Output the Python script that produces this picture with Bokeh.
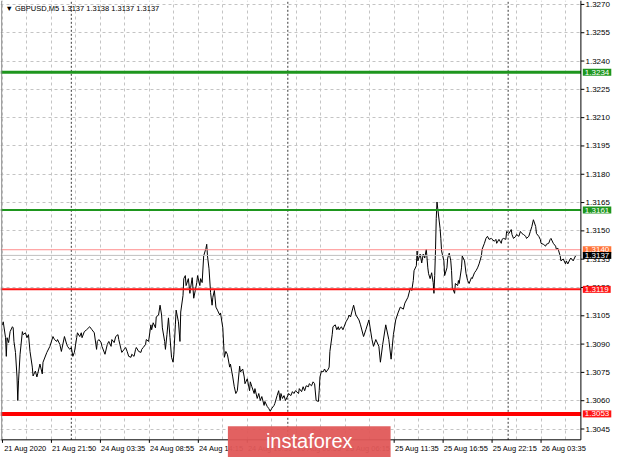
from bokeh.plotting import figure
from bokeh.models import (Range1d, FixedTicker, Label, PrintfTickFormatter,
                          BoxAnnotation, ColumnDataSource)
from bokeh.embed import file_html
from bokeh.resources import INLINE

title_text = "\u25bc GBPUSD,M5 1.3137 1.3138 1.3137 1.3137"

bar_index = [
    0, 1, 4, 5, 6, 8, 10, 13, 14, 15, 17, 19, 20, 21, 23, 26, 27, 30, 32, 34,
    36, 39, 40, 43, 45, 46, 49, 52, 53, 58, 62, 66, 68, 71, 72, 75, 77, 81, 84, 85,
    88, 90, 92, 94, 97, 98, 101, 103, 104, 107, 110, 114, 117, 120, 123, 124, 126, 129, 130, 134,
    137, 139, 142, 143, 146, 148, 151,
    152, 155, 156, 159, 161, 163, 165, 168, 169, 172, 174, 175, 178, 181, 182, 184, 187, 188, 191, 194,
    195, 197, 200, 201, 204, 206, 208, 209, 212, 213, 215, 217, 219, 221, 223, 224, 226, 227, 230, 232,
    233, 236, 237, 239, 240, 243, 245, 246, 248, 250, 252, 254, 255, 258, 259, 261, 263, 266, 267, 268,
    270, 272, 274, 275, 277, 279, 281, 284, 285, 288, 290, 292, 294, 297, 298, 301, 303, 305, 307,
    310, 311, 314, 316, 317, 320, 323, 324, 326, 329, 330, 333, 335, 337, 339, 342, 343, 346, 348, 350,
    352, 355, 356, 359, 361, 363, 364, 366, 368, 370, 373, 374, 377, 379, 381, 383, 387, 388, 391, 393,
    395, 397, 400, 401, 404, 406, 408, 410, 413, 414, 415, 417, 419, 421, 423, 426, 427, 428, 431, 432,
    435, 437, 439, 440, 443, 445, 446, 449, 452, 453, 455, 458, 459, 462,
    466, 468, 472, 475, 479, 483, 485, 488, 492, 494, 497, 501, 505, 508, 511, 514, 517, 520, 524, 526,
    530, 533, 535, 537, 538, 541, 542, 543, 546, 548, 550, 552, 554, 556, 557, 559, 561, 563, 564, 565,
    566, 567, 568, 569, 572, 573, 574, 577, 578, 581, 582, 584, 586, 587, 588, 591, 592, 595, 596, 597,
    600, 601, 604, 606, 608, 610, 613, 614, 617,
    619, 621, 623, 626, 627, 630, 632, 634, 636, 639, 640, 643, 645, 646, 649, 652, 653, 655, 658, 659,
    662, 665, 666, 668, 671, 672, 675, 677, 679, 681, 684, 685, 688, 690, 692, 694, 697, 698, 701, 703,
    704, 707, 710, 711, 714, 716, 717, 720, 723, 724, 726, 729, 730, 733, 736, 737, 739, 742, 743, 746,
    749, 750,
]

close = [
    1.31002, 1.31018, 1.30934, 1.30835, 1.30934, 1.30908, 1.30966, 1.30992, 1.30986, 1.30914,
    1.30856, 1.30726, 1.30601, 1.30705, 1.30846, 1.30966, 1.30950, 1.30960, 1.30934, 1.30950,
    1.30861, 1.30778, 1.30731, 1.30757, 1.30726, 1.30742, 1.30794, 1.30742, 1.30804, 1.30856,
    1.30888, 1.30940, 1.30924, 1.30914, 1.30924, 1.30898, 1.30861, 1.30940, 1.30898, 1.30888,
    1.30872, 1.30882, 1.30835, 1.30856, 1.30934, 1.30960, 1.30940, 1.30960, 1.30934, 1.30966,
    1.30976, 1.30992, 1.30976, 1.30960, 1.30872, 1.30914, 1.30924, 1.30908, 1.30888, 1.30846,
    1.30898, 1.30914, 1.30888, 1.30924, 1.30908, 1.30940, 1.30950,
    1.30924, 1.30872, 1.30856, 1.30872, 1.30882, 1.30861, 1.30835, 1.30830, 1.30846, 1.30835,
    1.30872, 1.30882, 1.30861, 1.30856, 1.30872, 1.30882, 1.30898, 1.30924, 1.30914, 1.31002,
    1.30976, 1.31013, 1.30986, 1.31044, 1.31054, 1.31106, 1.31054, 1.30986, 1.30914, 1.30872,
    1.30950, 1.31039, 1.30934, 1.30830, 1.30804, 1.30846, 1.31002, 1.31080, 1.31018, 1.30914,
    1.31070, 1.31158, 1.31247, 1.31263, 1.31210, 1.31247, 1.31169, 1.31200, 1.31252, 1.31143,
    1.31184, 1.31226, 1.31263, 1.31210, 1.31247, 1.31226, 1.31367, 1.31408, 1.31429, 1.31367,
    1.31299, 1.31174, 1.31106, 1.31148, 1.31184, 1.31096, 1.31080, 1.31054, 1.31065, 1.30986,
    1.30830, 1.30861, 1.30846, 1.30778, 1.30794, 1.30726, 1.30674, 1.30638, 1.30653,
    1.30783, 1.30752, 1.30768, 1.30726, 1.30690, 1.30716, 1.30653, 1.30700, 1.30674, 1.30638,
    1.30664, 1.30612, 1.30638, 1.30601, 1.30622, 1.30575, 1.30596, 1.30570, 1.30559, 1.30544,
    1.30559, 1.30575, 1.30585, 1.30627, 1.30653, 1.30601, 1.30638, 1.30612, 1.30627, 1.30601,
    1.30627, 1.30638, 1.30627, 1.30648, 1.30638, 1.30653, 1.30638, 1.30664, 1.30648, 1.30674,
    1.30653, 1.30679, 1.30674, 1.30690, 1.30679, 1.30700, 1.30690, 1.30601, 1.30596, 1.30653,
    1.30726, 1.30757, 1.30752, 1.30768, 1.30752, 1.30768, 1.30778, 1.30861, 1.30950, 1.30992,
    1.31002, 1.30976, 1.30992, 1.30976, 1.30992, 1.30976, 1.30986, 1.31018, 1.31039, 1.31054,
    1.31044, 1.31091, 1.31106, 1.31054,
    1.31028, 1.31002, 1.30940, 1.30976, 1.31028, 1.30924, 1.30888, 1.30924, 1.30888, 1.30804,
    1.30898, 1.31002, 1.30924, 1.30820, 1.30950, 1.31028, 1.31065, 1.31096, 1.31085, 1.31117,
    1.31148, 1.31195, 1.31184, 1.31237, 1.31289, 1.31315, 1.31393, 1.31341, 1.31377, 1.31330,
    1.31377, 1.31356, 1.31403, 1.31304, 1.31273, 1.31247, 1.31278, 1.31226, 1.31169, 1.31263,
    1.31393, 1.31565, 1.31653, 1.31617, 1.31513, 1.31460, 1.31393, 1.31341, 1.31263, 1.31304,
    1.31356, 1.31382, 1.31341, 1.31289, 1.31200, 1.31169, 1.31221, 1.31210, 1.31237, 1.31221,
    1.31304, 1.31367, 1.31341, 1.31273, 1.31237, 1.31221, 1.31252, 1.31247, 1.31278,
    1.31289, 1.31304, 1.31325, 1.31367, 1.31403, 1.31434, 1.31460, 1.31471, 1.31455, 1.31460,
    1.31455, 1.31445, 1.31455, 1.31434, 1.31455, 1.31434, 1.31455, 1.31460, 1.31455, 1.31497,
    1.31486, 1.31507, 1.31481, 1.31460, 1.31471, 1.31481, 1.31471, 1.31497, 1.31486, 1.31481,
    1.31471, 1.31460, 1.31471, 1.31497, 1.31523, 1.31559, 1.31523, 1.31486, 1.31471, 1.31455,
    1.31434, 1.31429, 1.31419, 1.31429, 1.31434, 1.31455, 1.31460, 1.31434, 1.31419, 1.31403,
    1.31408, 1.31367, 1.31341, 1.31351, 1.31325, 1.31341, 1.31325, 1.31351, 1.31356, 1.31341,
    1.31367, 1.31370,
]

price_ticks = [1.3045, 1.3060, 1.3075, 1.3090, 1.3105, 1.3120, 1.3135, 1.3150,
               1.3165, 1.3180, 1.3195, 1.3210, 1.3225, 1.3240, 1.3255, 1.3270]

time_tick_bars = [0, 64, 128, 192, 256, 320, 384, 448, 512, 576, 640, 704]
time_tick_labels = ["21 Aug 2020", "21 Aug 21:50", "24 Aug 03:35", "24 Aug 08:55",
                    "24 Aug 14:15", "24 Aug 19:35", "25 Aug 00:55", "25 Aug 06:15",
                    "25 Aug 11:35", "25 Aug 16:55", "25 Aug 22:15", "26 Aug 03:35"]
grid_bars = [0, 32, 64, 96, 128, 160, 192, 224, 256, 288, 320, 352, 384, 416, 448,
             480, 512, 544, 576, 608, 640, 672, 704, 736]
day_separator_bars = [90, 373, 661]

level_prices = [1.3234, 1.3161, 1.3140, 1.3137, 1.3119, 1.3053]
level_texts = ["1.3234", "1.3161", "1.3140", "1.3137", "1.3119", "1.3053"]

assert len(bar_index) == len(close)

# ---- styles / layout ----
level_line_colors = ["#1e961e", "#1e961e", "#ff8c8c", "#c0c0c0", "#ff1414", "#ff0000"]
level_line_widths = [3, 2, 1, 1, 2, 4]
level_box_colors = ["#1e961e", "#1e961e", "#ff7438", "#000000", "#ff1414", "#ff1414"]

X0, X1 = -2.58, 797.4          # whole canvas in bar units
Y0, Y1 = 1.302990, 1.327208    # whole canvas in price units
CHART_RIGHT = 756.1            # price scale line
CHART_BOTTOM = 1.303927        # time scale line
LABEL_SHIFT = 30               # MT4 time labels start at their tick
FONT = "Liberation Sans"

p = figure(width=612, height=457, x_range=Range1d(X0, X1), y_range=Range1d(Y0, Y1),
           y_axis_location="right", output_backend="svg", toolbar_location=None,
           min_border=0, min_border_left=0, min_border_right=0,
           min_border_top=0, min_border_bottom=0,
           background_fill_color="white", border_fill_color="white",
           outline_line_color=None)

# price axis (labels pulled in beside the price scale line)
yax = p.yaxis[0]
yax.ticker = FixedTicker(ticks=price_ticks)
yax.formatter = PrintfTickFormatter(format="%.4f")
yax.major_label_standoff = -27
yax.axis_line_color = None
yax.major_tick_line_color = None
yax.minor_tick_line_color = None
yax.major_tick_out = 0
yax.major_tick_in = 0
yax.minor_tick_out = 0
yax.minor_tick_in = 0
yax.major_label_text_font = FONT
yax.major_label_text_font_size = "8px"
yax.major_label_text_color = "black"

# time axis
xax = p.xaxis[0]
label_centers = [b + LABEL_SHIFT for b in time_tick_bars]
xax.ticker = FixedTicker(ticks=label_centers)
xax.major_label_overrides = {c: t for c, t in zip(label_centers, time_tick_labels)}
xax.major_label_standoff = -14
xax.axis_line_color = None
xax.major_tick_line_color = None
xax.minor_tick_line_color = None
xax.major_tick_out = 0
xax.major_tick_in = 0
xax.minor_tick_out = 0
xax.minor_tick_in = 0
xax.major_label_text_font = FONT
xax.major_label_text_font_size = "7.5px"
xax.major_label_text_color = "black"

# grid
p.xgrid.ticker = FixedTicker(ticks=grid_bars)
p.ygrid.ticker = FixedTicker(ticks=price_ticks)
for g in (p.xgrid, p.ygrid):
    g.grid_line_color = "#c4c4c4"
    g.grid_line_dash = "3 3"
    g.grid_line_width = 1

# keep the grid inside the chart area
p.add_layout(BoxAnnotation(left=CHART_RIGHT, fill_color="white", fill_alpha=1.0,
                           line_color=None, level="underlay"))
p.add_layout(BoxAnnotation(top=CHART_BOTTOM, fill_color="white", fill_alpha=1.0,
                           line_color=None, level="underlay"))

# day separators
p.segment(x0=day_separator_bars, y0=CHART_BOTTOM, x1=day_separator_bars, y1=Y1,
          line_color="#3a3a3a", line_dash="2 2", line_width=1)

# price line
p.line(bar_index, close, line_color="black", line_width=1)

# level lines
lv = ColumnDataSource(dict(y=level_prices, color=level_line_colors, width=level_line_widths))
p.segment(x0=X0, y0="y", x1=CHART_RIGHT, y1="y", line_color="color", line_width="width",
          source=lv)

# chart borders and scale ticks
p.segment(x0=[CHART_RIGHT, X0], y0=[CHART_BOTTOM, CHART_BOTTOM],
          x1=[CHART_RIGHT, CHART_RIGHT], y1=[Y1, CHART_BOTTOM], line_color="black", line_width=1)
p.segment(x0=-1, y0=CHART_BOTTOM, x1=-1, y1=Y1, line_color="#8a8a8a", line_width=1)
p.segment(x0=CHART_RIGHT, y0=price_ticks, x1=CHART_RIGHT + 4.5, y1=price_ticks,
          line_color="black", line_width=1)
p.segment(x0=time_tick_bars, y0=CHART_BOTTOM, x1=time_tick_bars, y1=CHART_BOTTOM - 0.00016,
          line_color="black", line_width=1)

# price boxes on the scale
for price, txt, col in zip(level_prices, level_texts, level_box_colors):
    p.add_layout(Label(x=CHART_RIGHT + 2.5, y=price, text=txt, text_align="left",
                       text_baseline="middle", text_font=FONT, text_font_size="8px",
                       text_color="white", background_fill_color=col, background_fill_alpha=1.0,
                       padding=dict(left=2, right=2, top=1, bottom=1)))

# symbol title
p.add_layout(Label(x=3.9, y=1.32679, text=title_text, text_align="left", text_baseline="middle",
                   text_font=FONT, text_font_size="7.5px", text_color="black"))

# watermark
p.add_layout(Label(x=401, y=1.30372, text="instaforex", text_align="center",
                   text_baseline="middle", text_font=FONT, text_font_size="20px",
                   text_color="white", background_fill_color="#e05858",
                   background_fill_alpha=0.95,
                   padding=dict(left=38, right=38, top=4, bottom=9)))

open("out.html", "w").write(file_html(p, INLINE))
